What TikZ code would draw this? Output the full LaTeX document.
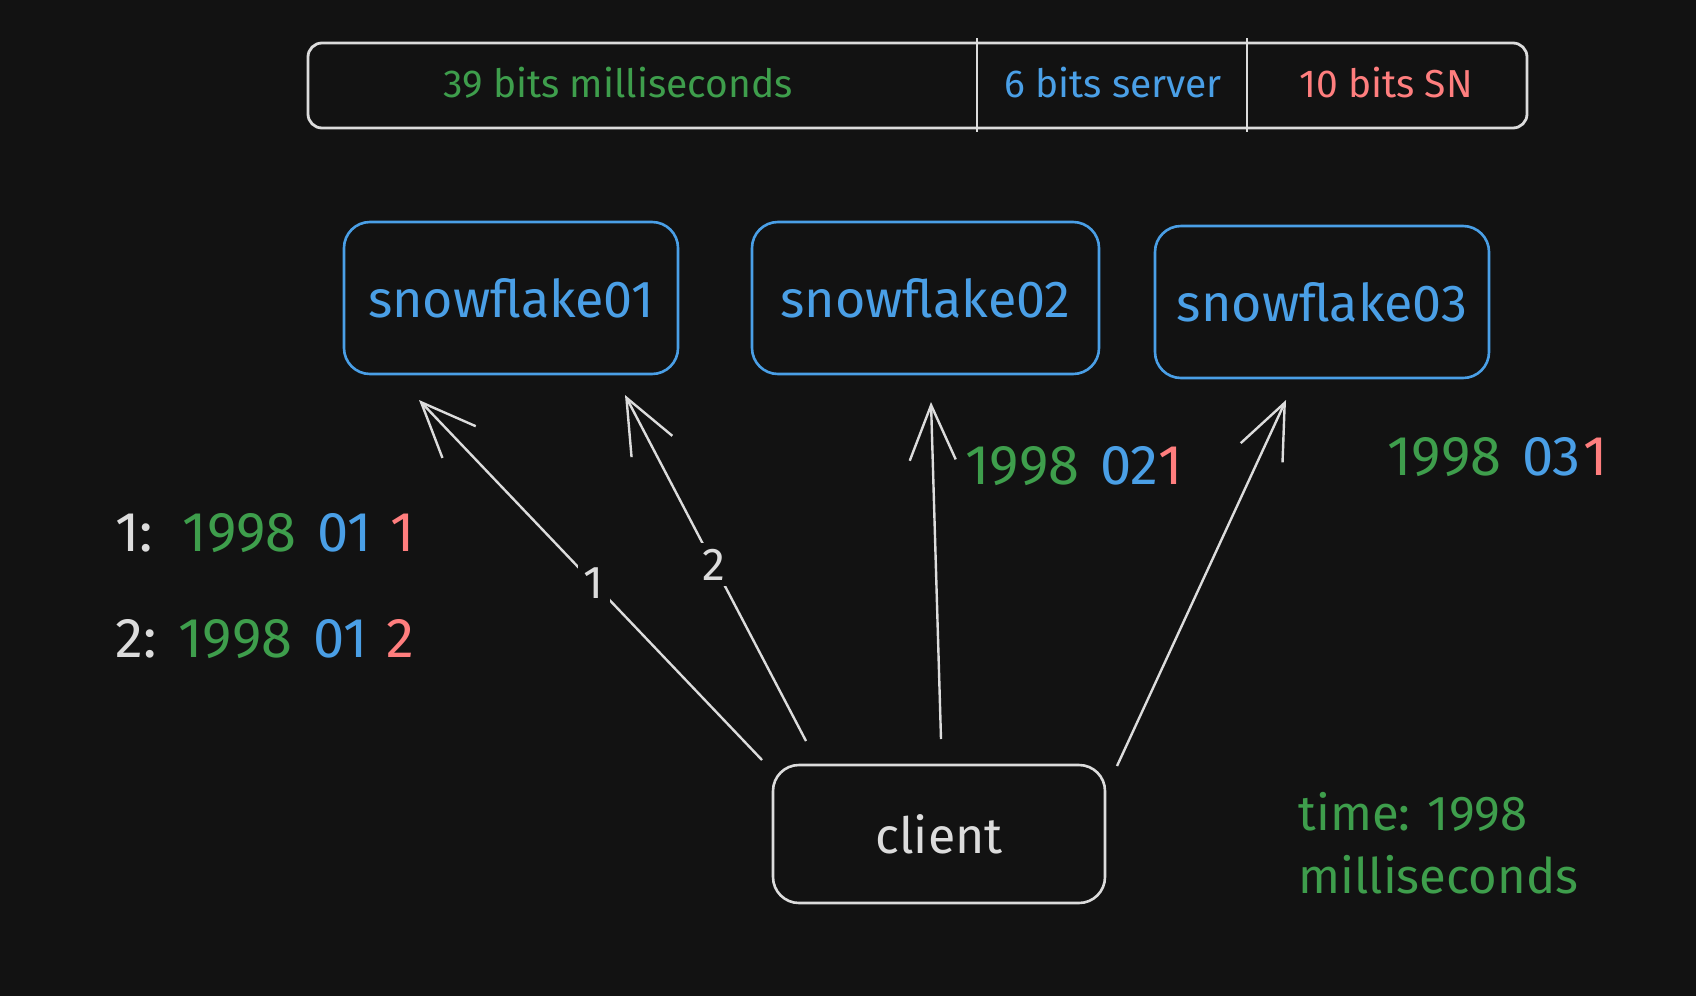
\documentclass[tikz,border=0pt]{standalone}
\usepackage{fontspec}
\setmainfont{Fira Sans}
\usetikzlibrary{arrows.meta}
\definecolor{bgc}{HTML}{121212}
\definecolor{wc}{HTML}{DCDCDC}
\definecolor{gc}{HTML}{3E9E4C}
\definecolor{bc}{HTML}{4A9FE6}
\definecolor{rc}{HTML}{FF7E7E}
\tikzset{
  sfbox/.style={draw=bc, line width=2.6pt, rounded corners=26pt, minimum width=334pt, minimum height=152pt, text=bc, font=\fontsize{52}{62}\selectfont},
  clbox/.style={draw=wc, line width=2.6pt, rounded corners=26pt, minimum width=332pt, minimum height=138pt, text=wc, font=\fontsize{50}{60}\selectfont},
  barbox/.style={draw=wc, line width=2.8pt, rounded corners=14pt, minimum width=1219pt, minimum height=85pt},
  bartxt/.style={font=\fontsize{39}{46}\selectfont},
  divline/.style={draw=wc, line width=2.2pt},
  arr/.style={draw=wc, line width=2.4pt, -{Straight Barb[length=55pt,width=46pt]}},
  lbl/.style={fill=bgc, text=wc, inner sep=6pt, font=\fontsize{46}{54}\selectfont},
  numtxt/.style={font=\fontsize{56}{66}\selectfont, text=wc},
}
\begin{document}
\begin{tikzpicture}[x=1pt,y=-1pt]
\fill[bgc] (0,0) rectangle (1696,996);
\useasboundingbox (0,0) rectangle (1696,996);
% top bar
\node[barbox] (bar) at (917.5,85.5) {};
\draw[divline] (977,38) -- (977,132);
\draw[divline] (1247,38) -- (1247,132);
\node[bartxt, text=gc] (b1) at (618,83) {39 bits milliseconds};
\node[bartxt, text=bc] (b2) at (1113,83) {6 bits server};
\node[bartxt, text=rc] (b3) at (1386,83) {10 bits SN};
% servers
\node[sfbox] (sf01) at (511,298) {snowflake01};
\node[sfbox, minimum width=347pt] (sf02) at (925.5,298) {snowflake02};
\node[sfbox] (sf03) at (1322,302) {snowflake03};
% client
\node[clbox] (client) at (939,834) {client};
% arrow endpoints
\coordinate (t1) at (762,760);
\coordinate (h1) at (419,400);
\coordinate (t2) at (806,741);
\coordinate (h2) at (625,395);
\coordinate (t3) at (941,739);
\coordinate (h3) at (931,402);
\coordinate (t4) at (1117,766);
\coordinate (h4) at (1286,400);
\draw[arr] (t1) -- node[lbl, pos=0.49] (l1) {1} (h1);
\draw[arr] (t2) -- node[lbl, pos=0.51] (l2) {2} (h2);
\draw[arr] (t3) -- (h3);
\draw[arr] (t4) -- (h4);
% id labels
\node[numtxt, anchor=west] (id1) at (112,533) {1:\ \ \textcolor{gc}{1998}\hspace{6pt} \textcolor{bc}{01}\hspace{4pt} \textcolor{rc}{1}};
\node[numtxt, anchor=west] (id2) at (112,639) {2:\hspace{2pt} \textcolor{gc}{1998}\hspace{6pt} \textcolor{bc}{01}\hspace{4pt} \textcolor{rc}{2}};
\node[numtxt, anchor=west] (id3) at (962,466) {\textcolor{gc}{1998}\hspace{6pt} \textcolor{bc}{02}\textcolor{rc}{1}};
\node[numtxt, anchor=west] (id4) at (1384,457) {\textcolor{gc}{1998}\hspace{6pt} \textcolor{bc}{03}\hspace{3pt}\textcolor{rc}{1}};
\node[numtxt, anchor=west, text=gc, align=left, font=\fontsize{49}{63}\selectfont] (tm) at (1295,843) {time: 1998\\milliseconds};
\end{tikzpicture}
\end{document}
